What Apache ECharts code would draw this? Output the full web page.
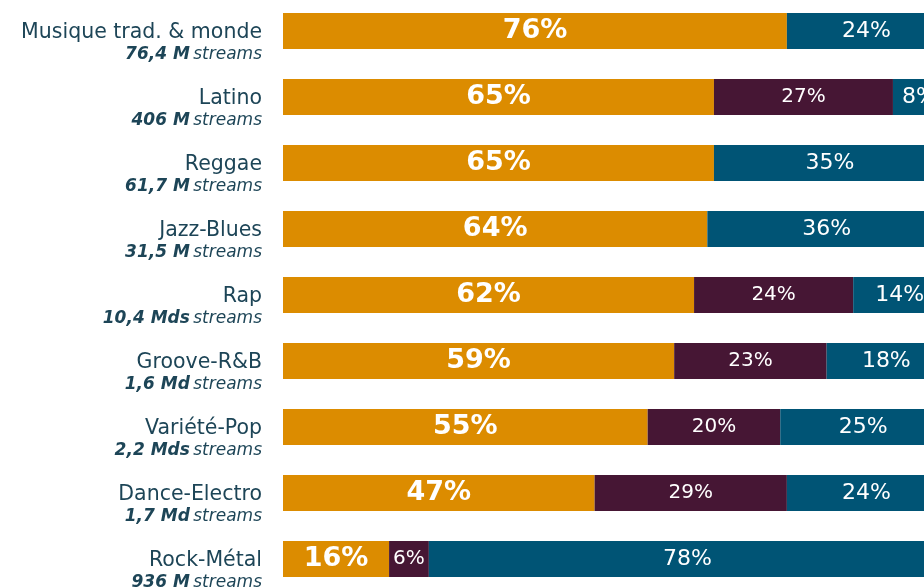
<!DOCTYPE html>
<html><head><meta charset="utf-8">
<script src="https://cdn.jsdelivr.net/npm/echarts@6/dist/echarts.min.js"></script>
<style>html,body{margin:0;padding:0;background:#fff;overflow:hidden;width:924px;height:587px;position:relative}#c{position:absolute;left:0;top:-2px;width:960px;height:600px}</style>
</head><body><div id="c"></div>
<script>
var categories = ["Musique trad. & monde","Latino","Reggae","Jazz-Blues","Rap","Groove-R&B","Variété-Pop","Dance-Electro","Rock-Métal"];
var streams = ["76,4 M","406 M","61,7 M","31,5 M","10,4 Mds","1,6 Md","2,2 Mds","1,7 Md","936 M"];
var seriesA = [76,65,65,64,62,59,55,47,16];
var seriesB = [0,27,0,0,24,23,20,29,6];
var seriesC = [24,8,35,36,14,18,25,24,78];

var FONT = "DejaVu Sans";
var chart = echarts.init(document.getElementById('c'));
function lbl(size, weight){
  return {show:true, position:'inside', color:'#fff', fontFamily:FONT, fontSize:size, fontWeight:weight,
    formatter:function(p){return p.value ? p.value + '%' : '';}};
}
chart.setOption({
  animation:false,
  grid:{left:283, width:663, top:0, height:594, containLabel:false},
  xAxis:{type:'value', min:0, max:100, show:false},
  yAxis:{type:'category', data:categories, inverse:true,
    axisLine:{show:false}, axisTick:{show:false}, splitLine:{show:false},
    axisLabel:{margin:21, padding:[26,0,0,0],
      formatter:function(v, i){return '{n|' + v + '}\n{b|' + streams[i] + '} {i|streams}';},
      rich:{
        n:{fontFamily:FONT, fontSize:20.5, color:'#1d4557', lineHeight:22, align:'right'},
        b:{fontFamily:FONT, fontSize:17, fontWeight:'bold', fontStyle:'italic', color:'#1d4557', lineHeight:22},
        i:{fontFamily:FONT, fontSize:17, fontStyle:'italic', color:'#1d4557', lineHeight:22}
      }}},
  series:[
    {type:'bar', stack:'s', data:seriesA, barWidth:36, itemStyle:{color:'#dc8c00'}, label:lbl(27,'bold')},
    {type:'bar', stack:'s', data:seriesB, barWidth:36, itemStyle:{color:'#461634'}, label:lbl(20,'normal')},
    {type:'bar', stack:'s', data:seriesC, barWidth:36, itemStyle:{color:'#005475'}, label:lbl(22,'normal')}
  ]
});
</script></body></html>
